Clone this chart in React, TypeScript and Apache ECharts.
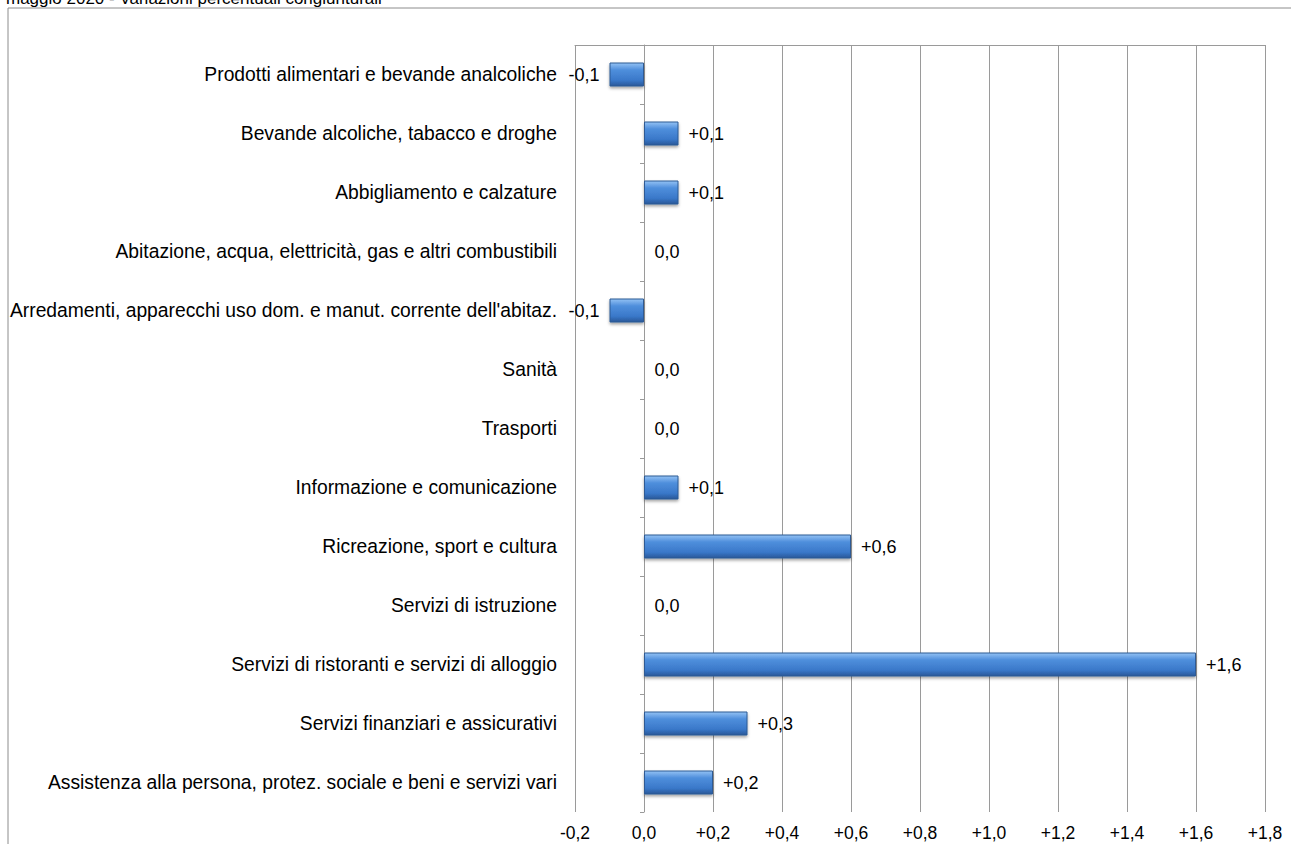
import React, { useEffect, useRef } from "react";
import * as echarts from "echarts";

const title = "maggio 2020 - Variazioni percentuali congiunturali";
const categories = [
  "Prodotti alimentari e bevande analcoliche",
  "Bevande alcoliche, tabacco e droghe",
  "Abbigliamento e calzature",
  "Abitazione, acqua, elettricità, gas e altri combustibili",
  "Arredamenti, apparecchi uso dom. e manut. corrente dell'abitaz.",
  "Sanità",
  "Trasporti",
  "Informazione e comunicazione",
  "Ricreazione, sport e cultura",
  "Servizi di istruzione",
  "Servizi di ristoranti e servizi di alloggio",
  "Servizi finanziari e assicurativi",
  "Assistenza alla persona, protez. sociale e beni e servizi vari",
];
const values = [-0.1, 0.1, 0.1, 0.0, -0.1, 0.0, 0.0, 0.1, 0.6, 0.0, 1.6, 0.3, 0.2];
const axisMin = -0.2;
const axisMax = 1.8;
const axisStep = 0.2;

const fmt = (v: number) => {
  const r = Math.round(v * 10) / 10;
  const s = Math.abs(r).toFixed(1).replace(".", ",");
  if (r > 0) return "+" + s;
  if (r < 0) return "-" + s;
  return s;
};

const FONT = "'Liberation Sans', Arial, sans-serif";

export default function App() {
  const ref = useRef<HTMLDivElement>(null);
  useEffect(() => {
    if (!ref.current) return;
    const chart = echarts.init(ref.current, undefined, { renderer: "svg" });
    const barColor = new echarts.graphic.LinearGradient(0, 0, 0, 1, [
      { offset: 0, color: "#93c2f4" },
      { offset: 0.3, color: "#4f8fdc" },
      { offset: 0.75, color: "#3a78c9" },
      { offset: 1, color: "#285898" },
    ]);
    chart.setOption({
      animation: false,
      backgroundColor: "#ffffff",
      textStyle: { fontFamily: FONT },
      graphic: [
        {
          type: "rect",
          shape: { x: 8, y: 8, width: 1300, height: 900 },
          style: { fill: "none", stroke: "#8c8c8c", lineWidth: 1 },
          silent: true,
        },
        {
          type: "text",
          x: 6,
          y: 7,
          style: {
            text: title,
            font: "17px " + FONT,
            fill: "#000",
            verticalAlign: "bottom",
          },
        },
      ],
      grid: { left: 575, right: 26, top: 45, bottom: 32, containLabel: false },
      xAxis: [
        {
          type: "value",
          position: "bottom",
          min: axisMin,
          max: axisMax,
          interval: axisStep,
          axisLine: { show: false },
          axisTick: { show: false },
          splitLine: { show: true, lineStyle: { color: "#9a9a9a", width: 1 } },
          axisLabel: {
            formatter: (v: number) => fmt(v),
            color: "#000",
            fontSize: 17.5,
            fontFamily: FONT,
            margin: 12,
          },
        },
        {
          type: "value",
          position: "top",
          min: axisMin,
          max: axisMax,
          interval: axisStep,
          axisLine: { show: true, onZero: false, lineStyle: { color: "#9a9a9a", width: 1 } },
          axisTick: { show: false },
          splitLine: { show: false },
          axisLabel: { show: false },
        },
      ],
      yAxis: [
        {
          type: "category",
          data: categories,
          inverse: true,
          axisLine: { show: false, onZero: false },
          axisTick: { show: false },
          axisLabel: {
            color: "#000",
            fontSize: 19.3,
            fontFamily: FONT,
            margin: 18,
          },
        },
        {
          type: "category",
          data: categories,
          inverse: true,
          position: "left",
          axisLine: {
            show: true,
            onZero: true,
            onZeroAxisIndex: 0,
            lineStyle: { color: "#9a9a9a", width: 1 },
          },
          axisTick: { show: true, length: 4, lineStyle: { color: "#9a9a9a" } },
          axisLabel: { show: false },
        },
      ],
      series: [
        {
          type: "bar",
          xAxisIndex: 0,
          yAxisIndex: 0,
          barWidth: 24,
          data: values.map((v) => ({
            value: v,
            label: { position: v < 0 ? "left" : "right" },
          })),
          itemStyle: {
            color: barColor,
            borderColor: "#2d5a94",
            borderWidth: 1,
            shadowColor: "rgba(0,0,0,0.35)",
            shadowBlur: 3,
            shadowOffsetY: 2,
          },
          label: {
            show: true,
            distance: 10,
            color: "#000",
            fontSize: 18,
            fontFamily: FONT,
            formatter: (p: any) => fmt(p.value),
          },
        },
      ],
    });
    return () => chart.dispose();
  }, []);
  return (
    <div
      ref={ref}
      style={{ position: "fixed", left: 0, top: 0, width: 1291, height: 844 }}
    />
  );
}
